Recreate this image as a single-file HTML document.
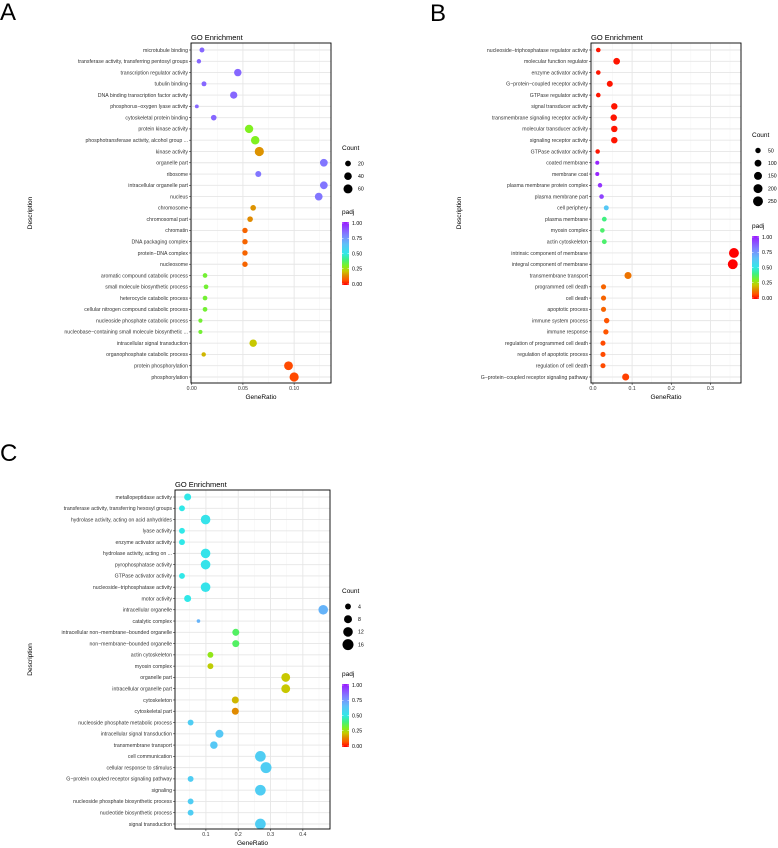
<!DOCTYPE html>
<html><head><meta charset="utf-8"><style>
body{margin:0;background:#fff}
svg{display:block;font-family:"Liberation Sans",sans-serif}
</style></head><body>
<svg id="fig" width="778" height="848" viewBox="0 0 778 848" xmlns="http://www.w3.org/2000/svg">
<defs>
<linearGradient id="padjGrad" x1="0" y1="1" x2="0" y2="0">
<stop offset="0" stop-color="#ff0000"/><stop offset="0.08" stop-color="#ff5500"/><stop offset="0.15" stop-color="#e08a00"/>
<stop offset="0.22" stop-color="#c8c800"/><stop offset="0.3" stop-color="#80f020"/><stop offset="0.4" stop-color="#40f080"/>
<stop offset="0.5" stop-color="#30e8e8"/><stop offset="0.65" stop-color="#5fc0f8"/><stop offset="0.8" stop-color="#7f80ff"/>
<stop offset="1" stop-color="#9a1aff"/></linearGradient>
</defs>
<text x="0" y="20" font-size="24">A</text>
<text x="430" y="21" font-size="24">B</text>
<text x="0" y="461" font-size="24">C</text>
</svg>
<script>
const aLabels=["microtubule binding","transferase activity, transferring pentosyl groups","transcription regulator activity","tubulin binding","DNA binding transcription factor activity","phosphorus−oxygen lyase activity","cytoskeletal protein binding","protein kinase activity","phosphotransferase activity, alcohol group ...","kinase activity","organelle part","ribosome","intracellular organelle part","nucleus","chromosome","chromosomal part","chromatin","DNA packaging complex","protein−DNA complex","nucleosome","aromatic compound catabolic process","small molecule biosynthetic process","heterocycle catabolic process","cellular nitrogen compound catabolic process","nucleoside phosphate catabolic process","nucleobase−containing small molecule biosynthetic ...","intracellular signal transduction","organophosphate catabolic process","protein phosphorylation","phosphorylation"];
const aRatio=[0.010,0.007,0.045,0.012,0.041,0.005,0.0215,0.056,0.062,0.066,0.129,0.065,0.129,0.124,0.060,0.057,0.052,0.052,0.052,0.052,0.013,0.014,0.013,0.013,0.0085,0.0085,0.060,0.0117,0.0945,0.100];
const aCount=[12,8,38,12,36,4,18,50,52,62,42,22,42,42,18,18,16,16,16,16,10,10,10,10,6,6,38,8,56,62];
const aPadj=[0.85,0.85,0.85,0.85,0.85,0.85,0.85,0.3,0.3,0.16,0.82,0.82,0.82,0.82,0.16,0.15,0.1,0.1,0.1,0.1,0.32,0.32,0.32,0.32,0.32,0.32,0.22,0.2,0.07,0.07];
const aTicks=[0,0.05,0.10];
const aTickLabels=["0.00","0.05","0.10"];
const aCountLegend=[20,40,60];

const bLabels=["nucleoside−triphosphatase regulator activity","molecular function regulator","enzyme activator activity","G−protein−coupled receptor activity","GTPase regulator activity","signal transducer activity","transmembrane signaling receptor activity","molecular transducer activity","signaling receptor activity","GTPase activator activity","coated membrane","membrane coat","plasma membrane protein complex","plasma membrane part","cell periphery","plasma membrane","myosin complex","actin cytoskeleton","intrinsic component of membrane","integral component of membrane","transmembrane transport","programmed cell death","cell death","apoptotic process","immune system process","immune response","regulation of programmed cell death","regulation of apoptotic process","regulation of cell death","G−protein−coupled receptor signaling pathway"];
const bRatio=[0.0136,0.0605,0.0136,0.043,0.0136,0.0545,0.053,0.0545,0.0545,0.012,0.011,0.011,0.018,0.022,0.034,0.029,0.024,0.029,0.36,0.357,0.0895,0.027,0.027,0.027,0.035,0.033,0.0256,0.0256,0.0256,0.0835];
const bCount=[25,95,25,70,25,85,85,85,85,22,10,10,22,25,35,30,25,30,250,250,110,40,40,40,50,45,38,38,38,110];
const bPadj=[0.02,0.02,0.02,0.02,0.02,0.02,0.02,0.02,0.02,0.02,0.98,0.98,0.95,0.92,0.62,0.4,0.38,0.38,0.0,0.0,0.12,0.1,0.1,0.1,0.08,0.08,0.07,0.07,0.07,0.06];
const bTicks=[0,0.1,0.2,0.3];
const bTickLabels=["0.0","0.1","0.2","0.3"];
const bCountLegend=[50,100,150,200,250];

const cLabels=["metallopeptidase activity","transferase activity, transferring hexosyl groups","hydrolase activity, acting on acid anhydrides","lyase activity","enzyme activator activity","hydrolase activity, acting on ...","pyrophosphatase activity","GTPase activator activity","nucleoside−triphosphatase activity","motor activity","intracellular organelle","catalytic complex","intracellular non−membrane−bounded organelle","non−membrane−bounded organelle","actin cytoskeleton","myosin complex","organelle part","intracellular organelle part","cytoskeleton","cytoskeletal part","nucleoside phosphate metabolic process","intracellular signal transduction","transmembrane transport","cell communication","cellular response to stimulus","G−protein coupled receptor signaling pathway","signaling","nucleoside phosphate biosynthetic process","nucleotide biosynthetic process","signal transduction"];
const cRatio=[0.0435,0.026,0.099,0.026,0.026,0.099,0.099,0.026,0.099,0.0435,0.463,0.077,0.1925,0.1925,0.114,0.114,0.347,0.347,0.191,0.191,0.0527,0.142,0.1247,0.2686,0.286,0.0527,0.2686,0.0527,0.0527,0.2686];
const cCount=[6,4,12,4,4,12,12,4,12,6,12,1,6,6,4,4,10,10,6,6,4,8,7,15,16,4,15,4,4,15];
const cPadj=[0.5,0.5,0.52,0.5,0.5,0.52,0.52,0.5,0.52,0.5,0.68,0.68,0.37,0.37,0.28,0.23,0.22,0.22,0.2,0.15,0.6,0.62,0.62,0.6,0.6,0.6,0.6,0.6,0.6,0.6];
const cTicks=[0.1,0.2,0.3,0.4];
const cTickLabels=["0.1","0.2","0.3","0.4"];
const cCountLegend=[4,8,12,16];

const NS="http://www.w3.org/2000/svg";
const svg=document.getElementById('fig');
const stops=[[0,[255,0,0]],[0.08,[255,85,0]],[0.15,[224,138,0]],[0.22,[200,200,0]],[0.3,[128,240,32]],[0.4,[64,240,128]],[0.5,[48,232,232]],[0.65,[95,192,248]],[0.8,[127,128,255]],[1,[154,26,255]]];
function padjColor(p){
  for(let i=1;i<stops.length;i++){
    if(p<=stops[i][0]){const a=stops[i-1],b=stops[i];const t=(p-a[0])/(b[0]-a[0]);
      const c=a[1].map((v,k)=>Math.round(v+(b[1][k]-v)*t));return `rgb(${c.join(',')})`;}
  }
  return 'rgb(154,26,255)';
}
function mk(tag,attrs,parent){const e=document.createElementNS(NS,tag);for(const k in attrs)e.setAttribute(k,attrs[k]);(parent||svg).appendChild(e);return e;}

function drawPanel(P,labels,ratio,count,padj,ticks,tickLabels,countLegend){
  const g=mk('g',{});
  
  
  const x=v=>P.x0+(v-P.xmin)/(P.xmax-P.xmin)*(P.x1-P.x0);
  const n=labels.length;
  const step=(P.yLast-P.yFirst)/(n-1);
  const y=i=>P.yFirst+i*step;
  const r=c=>Math.sqrt(Math.max(0.5,P.sa+P.sb*c));
  for(let i=0;i<ticks.length+1;i++){
    const d=ticks[1]-ticks[0];const v=ticks[0]-d/2+i*d;
    if(v>P.xmin&&v<P.xmax){const l=mk('line',{x1:x(v),x2:x(v),y1:P.y0,y2:P.y1,stroke:'#f3f3f3','stroke-width':0.5},g);
      }
  }
  ticks.forEach((v,i)=>{
    const l=mk('line',{x1:x(v),x2:x(v),y1:P.y0,y2:P.y1,stroke:'#e6e6e6','stroke-width':0.9},g);
    
    mk('line',{x1:x(v),x2:x(v),y1:P.y1,y2:P.y1+2,stroke:'#333','stroke-width':0.6},g);
    const t=mk('text',{x:x(v),y:P.y1+7,'font-size':5.2,fill:'#333','text-anchor':'middle'},g);
    t.textContent=tickLabels[i];
    
  });
  labels.forEach((lab,i)=>{
    const l=mk('line',{x1:P.x0,x2:P.x1,y1:y(i),y2:y(i),stroke:'#e6e6e6','stroke-width':0.9},g);
    
    mk('line',{x1:P.x0-2,x2:P.x0,y1:y(i),y2:y(i),stroke:'#333','stroke-width':0.6},g);
    const t=mk('text',{x:P.x0-3,y:y(i)+1.8,'font-size':5.2,fill:'#333','text-anchor':'end'},g);
    t.textContent=lab;
    
  });
  labels.forEach((lab,i)=>{
    const c=mk('circle',{cx:x(ratio[i]),cy:y(i),r:r(count[i]),fill:padjColor(padj[i])},g);
    
  });
  const b=mk('rect',{x:P.x0,y:P.y0,width:P.x1-P.x0,height:P.y1-P.y0,fill:'none',stroke:'#000','stroke-width':0.9},g);
  
  let t=mk('text',{x:P.x0,y:P.y0-3,'font-size':7.5,fill:'#000'},g);t.textContent='GO Enrichment';
  
  t=mk('text',{x:(P.x0+P.x1)/2,y:P.y1+16,'font-size':6.5,fill:'#000','text-anchor':'middle'},g);t.textContent='GeneRatio';
  
  t=mk('text',{x:0,y:0,'font-size':6.5,fill:'#000','text-anchor':'middle',transform:`translate(${P.descX},${(P.y0+P.y1)/2}) rotate(-90)`},g);t.textContent='Description';
  
  t=mk('text',{x:P.lx,y:P.ly,'font-size':6.5,fill:'#000'},g);t.textContent='Count';
  
  countLegend.forEach((c,i)=>{
    const cy=P.ly+13.5+i*12.7;
    const d=mk('circle',{cx:P.lx+6,cy:cy,r:r(c),fill:'#000'},g);
    
    const tt=mk('text',{x:P.lx+16,y:cy+1.8,'font-size':5.2,fill:'#000'},g);tt.textContent=c;
    
  });
  t=mk('text',{x:P.lx,y:P.py,'font-size':6.5,fill:'#000'},g);t.textContent='padj';
  
  const bt=P.py+8,bh=63;
  const cb=mk('rect',{x:P.lx,y:bt,width:7,height:bh,fill:'url(#padjGrad)'},g);
  
  [1,0.75,0.5,0.25,0].forEach((v,i)=>{
    const yy=bt+1+(1-v)*(bh-2);
    mk('line',{x1:P.lx,x2:P.lx+1.5,y1:yy,y2:yy,stroke:'#fff','stroke-width':0.5},g);
    mk('line',{x1:P.lx+5.5,x2:P.lx+7,y1:yy,y2:yy,stroke:'#fff','stroke-width':0.5},g);
    const tt=mk('text',{x:P.lx+10,y:yy+1.8,'font-size':5.2,fill:'#000'},g);tt.textContent=v.toFixed(2);
    
  });
}
drawPanel({id:'a',x0:191,x1:331,y0:43,y1:383,xmin:-0.0007,xmax:0.136,yFirst:50,yLast:377,sa:2.5,sb:0.3,descX:32,lx:342,ly:150,py:214},aLabels,aRatio,aCount,aPadj,aTicks,aTickLabels,aCountLegend);
drawPanel({id:'b',x0:591,x1:741,y0:43,y1:383,xmin:-0.005,xmax:0.378,yFirst:50,yLast:377,sa:3.2,sb:0.085,descX:461,lx:752,ly:137,py:228},bLabels,bRatio,bCount,bPadj,bTicks,bTickLabels,bCountLegend);
drawPanel({id:'c',x0:175,x1:330,y0:490,y1:829,xmin:0.0044,xmax:0.484,yFirst:497,yLast:824,sa:1.5,sb:1.8,descX:32,lx:342,ly:593,py:676},cLabels,cRatio,cCount,cPadj,cTicks,cTickLabels,cCountLegend);
</script>
</body></html>
